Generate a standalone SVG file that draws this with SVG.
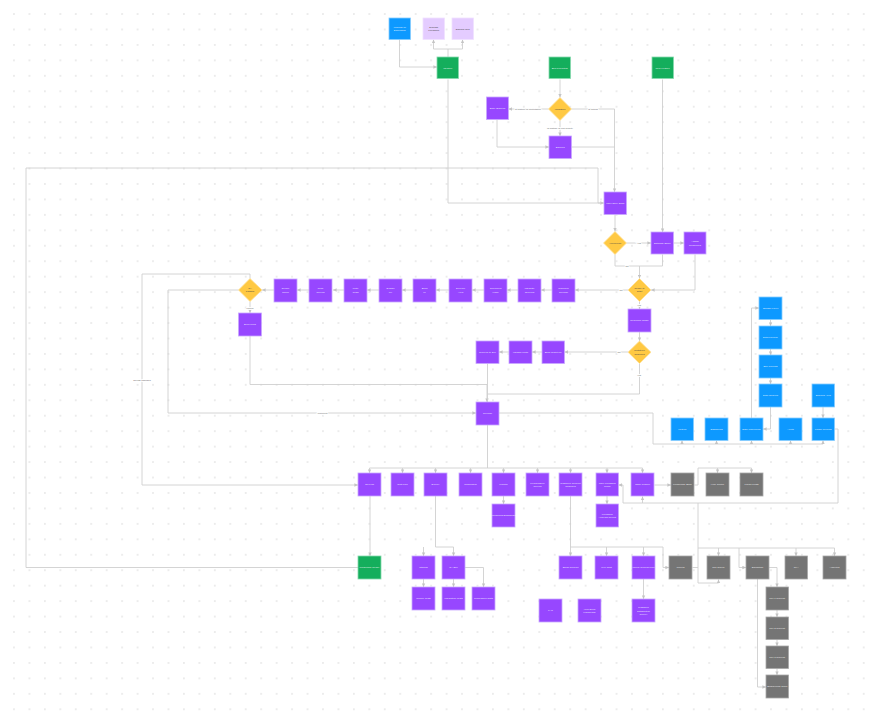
<svg xmlns="http://www.w3.org/2000/svg" width="876" height="720" viewBox="0 0 876 720">
<style>
.p{fill:#9747FF;stroke:#c9a8ff;stroke-width:0.8}
.b{fill:#0D99FF;stroke:#86ccff;stroke-width:0.8}
.g{fill:#14AE5C;stroke:#86d9ad;stroke-width:0.8}
.l{fill:#E4CCFF;stroke:#efe2ff;stroke-width:0.8}
.k{fill:#757575;stroke:#a8a8a8;stroke-width:0.8}
.y{fill:#FFC943;stroke:#ffe19a;stroke-width:0.8}
text{font-family:"Liberation Sans",Arial,sans-serif;font-size:2.5px;text-anchor:middle}
.t{fill:#ffffff;fill-opacity:0.9}
.d{fill:#444444}
.el{fill:#666666;paint-order:stroke;stroke:#ffffff;stroke-width:1.6px}
.c path{fill:none;stroke:#cfcfcf;stroke-width:0.9;stroke-linejoin:round}
.c path.a{marker-end:url(#ah)}
</style>
<defs>
<pattern id="dots" width="15.45" height="15.45" patternUnits="userSpaceOnUse" x="6.3" y="6.3">
<circle cx="7.7" cy="7.7" r="0.75" fill="#d2d2d2"/>
</pattern>
<marker id="ah" markerUnits="userSpaceOnUse" markerWidth="4" markerHeight="4" refX="3.6" refY="2" orient="auto">
<path d="M0,0.3 L3.6,2 L0,3.7 z" fill="#c4c4c4"/>
</marker>
</defs>
<rect width="876" height="720" fill="#ffffff"/>
<rect width="876" height="720" fill="url(#dots)"/>

<g id="connectors" class="c">
<path class="a" d="M399.5,39.5 V67 H437"/>
<path class="a" d="M448,57 V49 H433.5 V39.5"/>
<path class="a" d="M448,49 H462.5 V39.5"/>
<path class="a" d="M448,79.5 V203 H604"/>
<path d="M358,567.5 H26 V168 H598 V203 H603"/>
<path class="a" d="M560,79.5 V97.5"/>
<path class="a" d="M548.5,109 H508.5"/>
<path class="a" d="M571.5,109 H614.5 V192"/>
<path class="a" d="M560,120.5 V136"/>
<path class="a" d="M497,120 V147 H549"/>
<path d="M571.5,147 H614.5"/>
<path class="a" d="M662.5,79.5 V232"/>
<path class="a" d="M615,214.5 V231.5"/>
<path class="a" d="M626.5,243 H651"/>
<path class="a" d="M673.5,243 H684"/>
<path class="a" d="M615,254.5 V266 H639.5 V278.5"/>
<path d="M662.5,254.5 V266 H639.5"/>
<path class="a" d="M695,254.5 V290 H651"/>
<path class="a" d="M628,290 H575"/>
<path class="a" d="M552,290 H541"/>
<path class="a" d="M518,290 H507"/>
<path class="a" d="M484,290 H472"/>
<path class="a" d="M449,290 H436"/>
<path class="a" d="M413,290 H402"/>
<path class="a" d="M379,290 H367"/>
<path class="a" d="M344,290 H333"/>
<path class="a" d="M309,290 H297"/>
<path class="a" d="M274,290 H262"/>
<path class="a" d="M250,278.5 V274 H142 V485 H358"/>
<path class="a" d="M238.5,290 H168 V413 H476"/>
<path class="a" d="M250,301.5 V313"/>
<path class="a" d="M250,336 V384.5 H487 V402"/>
<path class="a" d="M639.5,301.5 V309"/>
<path class="a" d="M639.5,332 V341"/>
<path class="a" d="M628,352 H564.5"/>
<path class="a" d="M542,352 H532"/>
<path class="a" d="M509,352 H499"/>
<path d="M639.5,363.5 V394 H487"/>
<path d="M487.5,363.5 V402"/>
<path d="M498.5,413 H653 V444 H823"/>
<path class="a" d="M682,444 V440.5"/>
<path class="a" d="M716.5,444 V440.5"/>
<path class="a" d="M751.5,444 V440.5"/>
<path class="a" d="M790.5,444 V440.5"/>
<path class="a" d="M823,444 V440.5"/>
<path class="a" d="M751.5,418 V308 H759"/>
<path class="a" d="M770.5,319.5 V326"/>
<path class="a" d="M770.5,349 V355"/>
<path class="a" d="M770.5,378 V384"/>
<path class="a" d="M770.5,407 V429 H763"/>
<path class="a" d="M823,407 V418"/>
<path class="a" d="M834.5,429 H838 V503 H623 V485 H618.5"/>
<path class="a" d="M642.5,503 V496.5"/>
<path d="M487.5,425 V468"/>
<path d="M369.5,468 H642.5"/>
<path class="a" d="M369.5,468 V473"/>
<path class="a" d="M402.5,468 V473"/>
<path class="a" d="M435.5,468 V473"/>
<path class="a" d="M470.5,468 V473"/>
<path class="a" d="M503.5,468 V473"/>
<path class="a" d="M537.5,468 V473"/>
<path class="a" d="M570.5,468 V473"/>
<path class="a" d="M607,468 V473"/>
<path class="a" d="M642.5,468 V473"/>
<path class="a" d="M370,496 V556"/>
<path class="a" d="M503.5,496 V504"/>
<path class="a" d="M607,496 V504"/>
<path class="a" d="M654.5,485 H671"/>
<path d="M694.5,485 H698 V468 H751.5"/>
<path class="a" d="M717.5,468 V473"/>
<path class="a" d="M751.5,468 V473"/>
<path d="M435.5,496 V547 H453.5"/>
<path class="a" d="M423.5,547 V556"/>
<path class="a" d="M453.5,547 V556"/>
<path class="a" d="M423.5,579 V587"/>
<path class="a" d="M453.5,579 V587"/>
<path class="a" d="M465,567.5 H483.5 V587"/>
<path class="a" d="M570.5,496 V547 H663 V567.5 H669"/>
<path class="a" d="M570.5,547 V556"/>
<path class="a" d="M606.5,547 V556"/>
<path class="a" d="M643.5,547 V556"/>
<path class="a" d="M643.5,579 V599"/>
<path d="M698,503 V548 H834.5"/>
<path class="a" d="M718.5,548 V556"/>
<path class="a" d="M739,548 V567.5 H746"/>
<path class="a" d="M796,548 V556"/>
<path class="a" d="M834.5,548 V556"/>
<path d="M692.5,567.5 H698"/>
<path class="a" d="M698,548 V583 H718.5 V579.5"/>
<path class="a" d="M769,567.5 H777 V587"/>
<path class="a" d="M777,610 V617"/>
<path class="a" d="M777,639.5 V646"/>
<path class="a" d="M777,668.5 V675"/>
<path class="a" d="M757.5,579 V687 H766"/>
</g>

<g id="edge-labels">
<text class="el" x="528" y="110">Is feature of importance</text>
<text class="el" x="593" y="110">Is critical</text>
<text class="el" x="560" y="129">Is feature of low priority</text>
<text class="el" x="639" y="244">Yes</text>
<text class="el" x="627" y="267">No</text>
<text class="el" x="621" y="291">No</text>
<text class="el" x="639" y="306">Yes</text>
<text class="el" x="250" y="309">Failed</text>
<text class="el" x="619" y="353">No</text>
<text class="el" x="639" y="376">Yes</text>
<text class="el" x="142" y="381">Needs changes</text>
<text class="el" x="322" y="414">Approved</text>
</g>

<g id="n-working"><rect class="b" x="389" y="18" width="21.5" height="21.5"/><text class="t" x="399.7" y="27.8">Working on</text><text class="t" x="399.7" y="31.4">Discussion</text></g>
<g id="n-discuss"><rect class="l" x="423" y="18" width="21.5" height="21.5"/><text class="d" x="433.7" y="27.8">Discuss</text><text class="d" x="433.7" y="31.4">Feedback</text></g>
<g id="n-discard"><rect class="l" x="452" y="18" width="21.5" height="21.5"/><text class="d" x="462.7" y="29.7">Discard Idea</text></g>
<g id="n-ideation"><rect class="g" x="437" y="57" width="21.5" height="21.5"/><text class="t" x="447.7" y="68.7">Ideation</text></g>
<g id="n-bug"><rect class="g" x="549" y="57" width="21.5" height="21.5"/><text class="t" x="559.7" y="68.7">Bug Reporting</text></g>
<g id="n-feature"><rect class="g" x="652" y="57" width="21.5" height="21.5"/><text class="t" x="662.7" y="68.7">New Feature</text></g>
<g id="n-validation"><polygon class="y" points="560,97.5 571.5,109 560,120.5 548.5,109"/><text class="d" x="560" y="109.9">Validation</text></g>
<g id="n-entry"><rect class="p" x="486.5" y="97" width="22" height="22.5"/><text class="t" x="497.5" y="109.1">Entry Backlog</text></g>
<g id="n-backlog"><rect class="p" x="549" y="136" width="22.5" height="22.5"/><text class="t" x="560.2" y="148.1">Backlog</text></g>
<g id="n-story"><rect class="p" x="604" y="192" width="22.5" height="22.5"/><text class="t" x="615.2" y="204.1">User Story Draft</text></g>
<g id="n-approved"><polygon class="y" points="615,231.5 626.5,243 615,254.5 603.5,243"/><text class="d" x="615" y="243.9">Approved?</text></g>
<g id="n-estimate"><rect class="p" x="651" y="232" width="22.5" height="22"/><text class="t" x="662.2" y="243.9">Estimate Effort</text></g>
<g id="n-assign"><rect class="p" x="684" y="232" width="22" height="22"/><text class="t" x="695" y="242">Assign</text><text class="t" x="695" y="245.6">Resources</text></g>
<g id="n-ready"><polygon class="y" points="639.5,278.5 651,290 639.5,301.5 628,290"/><text class="d" x="639.5" y="289">Ready to</text><text class="d" x="639.5" y="292.4">Start</text></g>
<g id="n-s9"><rect class="p" x="552" y="279" width="23" height="23"/><text class="t" x="563.5" y="289.2">Complete</text><text class="t" x="563.5" y="292.8">Release</text></g>
<g id="n-s8"><rect class="p" x="518" y="279" width="23" height="23"/><text class="t" x="529.5" y="289.2">Integrate</text><text class="t" x="529.5" y="292.8">Services</text></g>
<g id="n-s7"><rect class="p" x="484" y="279" width="23" height="23"/><text class="t" x="495.5" y="289.2">Implement</text><text class="t" x="495.5" y="292.8">Logic</text></g>
<g id="n-s6"><rect class="p" x="449" y="279" width="23" height="23"/><text class="t" x="460.5" y="289.2">Develop</text><text class="t" x="460.5" y="292.8">APIs</text></g>
<g id="n-s5"><rect class="p" x="413" y="279" width="23" height="23"/><text class="t" x="424.5" y="289.2">Build</text><text class="t" x="424.5" y="292.8">UI</text></g>
<g id="n-s4"><rect class="p" x="379" y="279" width="23" height="23"/><text class="t" x="390.5" y="289.2">Design</text><text class="t" x="390.5" y="292.8">UX</text></g>
<g id="n-s3"><rect class="p" x="344" y="279" width="23" height="23"/><text class="t" x="355.5" y="289.2">Write</text><text class="t" x="355.5" y="292.8">Tests</text></g>
<g id="n-s2"><rect class="p" x="309" y="279" width="23" height="23"/><text class="t" x="320.5" y="289.2">Code</text><text class="t" x="320.5" y="292.8">Review</text></g>
<g id="n-s1"><rect class="p" x="274" y="279" width="23" height="23"/><text class="t" x="285.5" y="289.2">Quality</text><text class="t" x="285.5" y="292.8">Check</text></g>
<g id="n-qa"><polygon class="y" points="250,278.5 262,290 250,301.5 238.5,290"/><text class="d" x="250" y="289">QA</text><text class="d" x="250" y="292.4">Passed</text></g>
<g id="n-bugfix"><rect class="p" x="238.5" y="313" width="23" height="23"/><text class="t" x="250" y="325.1">Bug Fixing</text></g>
<g id="n-research"><rect class="p" x="628" y="309" width="23" height="23"/><text class="t" x="639.5" y="321.1">Research Phase</text></g>
<g id="n-proto"><polygon class="y" points="639.5,341 651,352.2 639.5,363.5 628,352.2"/><text class="d" x="639.5" y="351.2">Prototype</text><text class="d" x="639.5" y="354.6">Required</text></g>
<g id="n-p1"><rect class="p" x="476" y="341" width="23" height="22.5"/><text class="t" x="487.5" y="353.1">Proceed to Dev</text></g>
<g id="n-p2"><rect class="p" x="509" y="341" width="23" height="22.5"/><text class="t" x="520.5" y="353.1">Validate Proto</text></g>
<g id="n-p3"><rect class="p" x="542" y="341" width="22.5" height="22.5"/><text class="t" x="553.2" y="353.1">Build Prototype</text></g>
<g id="n-release"><rect class="p" x="476" y="402" width="23" height="23"/><text class="t" x="487.5" y="414.4">Release</text></g>

<g id="n-b1"><rect class="b" x="671" y="418" width="22.5" height="22.5"/><text class="t" x="682.2" y="430.1">Metrics</text></g>
<g id="n-b2"><rect class="b" x="705" y="418" width="23" height="22.5"/><text class="t" x="716.5" y="430.1">Dashboard</text></g>
<g id="n-b3"><rect class="b" x="740" y="418" width="23" height="22.5"/><text class="t" x="751.5" y="430.1">Data Warehouse</text></g>
<g id="n-b4"><rect class="b" x="779" y="418" width="23" height="22.5"/><text class="t" x="790.5" y="430.1">Alerts</text></g>
<g id="n-b5"><rect class="b" x="812" y="418" width="22.5" height="22.5"/><text class="t" x="823.2" y="430.1">Usage Reports</text></g>
<g id="n-c1"><rect class="b" x="759" y="297" width="23" height="22.5"/><text class="t" x="770.5" y="309.1">Storage Layer</text></g>
<g id="n-c2"><rect class="b" x="759" y="326" width="23" height="23"/><text class="t" x="770.5" y="338.4">Data Pipeline</text></g>
<g id="n-c3"><rect class="b" x="759" y="355" width="23" height="23"/><text class="t" x="770.5" y="367.4">ETL Process</text></g>
<g id="n-c4"><rect class="b" x="759" y="384" width="23" height="23"/><text class="t" x="770.5" y="396.4">Data Sources</text></g>
<g id="n-ext"><rect class="b" x="812" y="384" width="22.5" height="23"/><text class="t" x="823.2" y="396.4">External APIs</text></g>

<g id="n-r1"><rect class="p" x="358" y="473" width="23" height="23"/><text class="t" x="369.5" y="485.4">Git Flow</text></g>
<g id="n-r2"><rect class="p" x="391" y="473" width="23" height="23"/><text class="t" x="402.5" y="485.4">Test Plan</text></g>
<g id="n-r3"><rect class="p" x="424" y="473" width="23" height="23"/><text class="t" x="435.5" y="485.4">Deploy</text></g>
<g id="n-r4"><rect class="p" x="459" y="473" width="23" height="23"/><text class="t" x="470.5" y="485.4">Notification</text></g>
<g id="n-r5"><rect class="p" x="492" y="473" width="23" height="23"/><text class="t" x="503.5" y="485.4">Monitor</text></g>
<g id="n-r6"><rect class="p" x="526" y="473" width="23" height="23"/><text class="t" x="537.5" y="483.6">Performance</text><text class="t" x="537.5" y="487.2">Review</text></g>
<g id="n-r7"><rect class="p" x="559" y="473" width="23" height="23"/><text class="t" x="570.5" y="483.6">Customer Support</text><text class="t" x="570.5" y="487.2">Channels</text></g>
<g id="n-r8"><rect class="p" x="596" y="473" width="22.5" height="23"/><text class="t" x="607.2" y="483.6">User Feedback</text><text class="t" x="607.2" y="487.2">Portal</text></g>
<g id="n-r9"><rect class="p" x="631" y="473" width="23" height="23"/><text class="t" x="642.5" y="485.4">Issue Tracker</text></g>
<g id="n-g1"><rect class="k" x="671" y="473" width="23" height="23"/><text class="t" x="682.5" y="485.4">Knowledge Base</text></g>
<g id="n-g2"><rect class="k" x="706" y="473" width="23" height="23"/><text class="t" x="717.5" y="485.4">Help Center</text></g>
<g id="n-g3"><rect class="k" x="740" y="473" width="23" height="23"/><text class="t" x="751.5" y="485.4">Forum Posts</text></g>
<g id="n-mon"><rect class="p" x="492" y="504" width="23" height="23"/><text class="t" x="503.5" y="516.4">Monitoring Dashboard</text></g>
<g id="n-fb"><rect class="p" x="596" y="504" width="22.5" height="23"/><text class="t" x="607.2" y="514.6">Feedback</text><text class="t" x="607.2" y="518.2">Analysis Report</text></g>

<g id="n-prod"><rect class="g" x="358" y="556" width="23" height="23"/><text class="t" x="369.5" y="568.4">Production Ready</text></g>
<g id="n-stg"><rect class="p" x="412" y="556" width="23" height="23"/><text class="t" x="423.5" y="568.4">Staging</text></g>
<g id="n-qae"><rect class="p" x="442" y="556" width="23" height="23"/><text class="t" x="453.5" y="568.4">QA Env</text></g>
<g id="n-t1"><rect class="p" x="412" y="587" width="23" height="23"/><text class="t" x="423.5" y="599.4">Smoke Tests</text></g>
<g id="n-t2"><rect class="p" x="442" y="587" width="23" height="23"/><text class="t" x="453.5" y="599.4">Integration Tests</text></g>
<g id="n-t3"><rect class="p" x="472" y="587" width="23" height="23"/><text class="t" x="483.5" y="599.4">Regression Tests</text></g>
<g id="n-email"><rect class="p" x="559" y="556" width="23" height="23"/><text class="t" x="570.5" y="568.4">Email Support</text></g>
<g id="n-chat"><rect class="p" x="595" y="556" width="23" height="23"/><text class="t" x="606.5" y="568.4">Live Chat</text></g>
<g id="n-phone"><rect class="p" x="632" y="556" width="23" height="23"/><text class="t" x="643.5" y="568.4">Phone Support Line</text></g>
<g id="n-faq"><rect class="p" x="539" y="599" width="23" height="23"/><text class="t" x="550.5" y="611.4">FAQ</text></g>
<g id="n-docs"><rect class="p" x="578" y="599" width="23" height="23"/><text class="t" x="589.5" y="609.6">Help Docs</text><text class="t" x="589.5" y="613.2">Knowledge</text></g>
<g id="n-csat"><rect class="p" x="632" y="599" width="23" height="23"/><text class="t" x="643.5" y="607.9">Customer</text><text class="t" x="643.5" y="611.5">Satisfaction</text><text class="t" x="643.5" y="615.1">Survey</text></g>
<g id="n-k1"><rect class="k" x="669" y="556" width="23" height="23"/><text class="t" x="680.5" y="568.4">Tickets</text></g>
<g id="n-k2"><rect class="k" x="707" y="556" width="23" height="23"/><text class="t" x="718.5" y="568.4">Call Queue</text></g>
<g id="n-k3"><rect class="k" x="746" y="556" width="23" height="23"/><text class="t" x="757.5" y="568.4">Escalation</text></g>
<g id="n-k4"><rect class="k" x="785" y="556" width="22.5" height="23"/><text class="t" x="796.2" y="568.4">SLA</text></g>
<g id="n-k5"><rect class="k" x="823" y="556" width="23" height="23"/><text class="t" x="834.5" y="568.4">Analytics</text></g>
<g id="n-tier1"><rect class="k" x="766" y="587" width="22.5" height="23"/><text class="t" x="777.2" y="599.4">Tier 1 Support</text></g>
<g id="n-tier2"><rect class="k" x="766" y="617" width="22.5" height="22.5"/><text class="t" x="777.2" y="629.1">Tier 2 Support</text></g>
<g id="n-tier3"><rect class="k" x="766" y="646" width="22.5" height="22.5"/><text class="t" x="777.2" y="658.1">Tier 3 Support</text></g>
<g id="n-eng"><rect class="k" x="766" y="675" width="22.5" height="23"/><text class="t" x="777.2" y="687.4">Engineering Team</text></g>
</svg>
